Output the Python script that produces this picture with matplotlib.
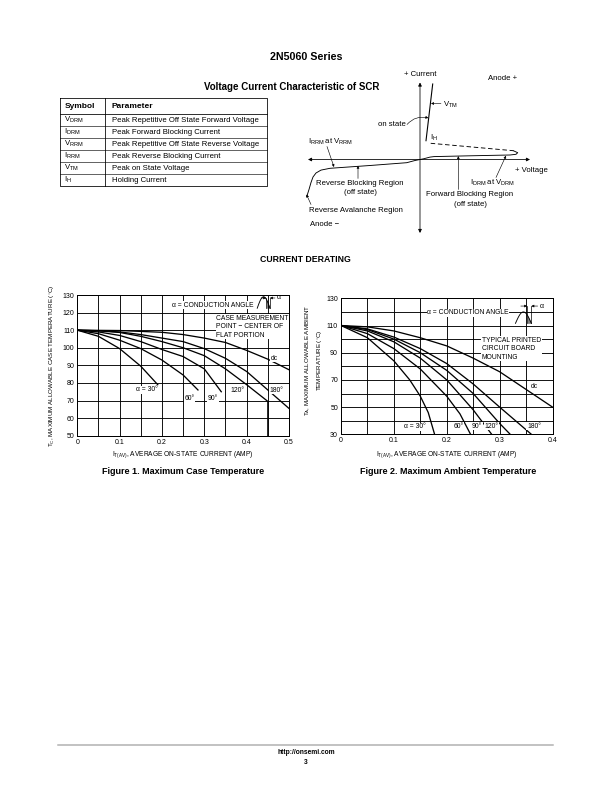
import numpy as np
import matplotlib.pyplot as plt

# ---------------- datos ----------------
simbolos = [r'V$_{\rm DRM}$', r'I$_{\rm DRM}$', r'V$_{\rm RRM}$', r'I$_{\rm RRM}$', r'V$_{\rm TM}$', r'I$_{\rm H}$']
parametros = ['Peak Repetitive Off State Forward Voltage',
              'Peak Forward Blocking Current',
              'Peak Repetitive Off State Reverse Voltage',
              'Peak Reverse Blocking Current',
              'Peak on State Voltage',
              'Holding Current']

# curva caracteristica del SCR (unidades del esquema, origen en el cruce de ejes)
on_v = [12.7, 6.0]
on_i = [75.5, 18.8]
hold_v = [10.7, 93.3]
hold_i = [16.2, 8.8]
fwd_v = [0, 4, 10, 14, 50, 90, 96, 97.7, 93.3]
fwd_i = [0, 0.8, 2.4, 2.9, 3.7, 4.5, 5.2, 6.8, 8.8]
rev_v = [0, -5, -13.3, -50, -90, -99, -104, -107, -109, -111, -113.3]
rev_i = [0, -1, -3.2, -6, -8.8, -10.6, -13.5, -17.5, -23, -30, -37.2]

# Figura 1: temperatura de carcasa
f1_30_x = [0, 0.05, 0.1, 0.15, 0.19]
f1_30_y = [110, 106.5, 99.5, 89.5, 79]
f1_60_x = [0, 0.05, 0.1, 0.15, 0.2, 0.25, 0.285]
f1_60_y = [110, 108, 104.3, 99.5, 93, 84.5, 76]
f1_90_x = [0, 0.05, 0.1, 0.15, 0.2, 0.25, 0.3, 0.34]
f1_90_y = [110, 109, 107, 103.5, 99, 95, 88, 75]
f1_120_x = [0, 0.05, 0.1, 0.15, 0.2, 0.25, 0.3, 0.35, 0.4, 0.45, 0.45]
f1_120_y = [110, 109.6, 108.7, 106.5, 103.5, 100, 95.5, 88, 79, 69.5, 50]
f1_180_x = [0, 0.05, 0.1, 0.15, 0.2, 0.25, 0.3, 0.35, 0.4, 0.45, 0.5]
f1_180_y = [110, 109.7, 109, 107.5, 105.5, 103.5, 99.5, 94, 86.5, 76, 65.5]
f1_dc_x = [0, 0.1, 0.2, 0.25, 0.3, 0.35, 0.4, 0.45, 0.5]
f1_dc_y = [110, 109.8, 108.8, 107.5, 105.5, 103, 98.5, 93.5, 87.5]

# Figura 2: temperatura ambiente
f2_30_x = [0, 0.05, 0.1, 0.13, 0.15, 0.165, 0.177]
f2_30_y = [110, 101, 84, 70, 58, 46, 30]
f2_60_x = [0, 0.05, 0.1, 0.15, 0.2, 0.225, 0.245]
f2_60_y = [110, 104, 93, 78, 58, 45, 30]
f2_90_x = [0, 0.05, 0.1, 0.15, 0.2, 0.25, 0.285]
f2_90_y = [110, 106, 98, 86, 70, 48, 30]
f2_120_x = [0, 0.05, 0.1, 0.15, 0.2, 0.25, 0.3, 0.32]
f2_120_y = [110, 107, 100, 90, 77, 60, 38, 30]
f2_180_x = [0, 0.05, 0.1, 0.15, 0.2, 0.25, 0.3, 0.36]
f2_180_y = [110, 107.5, 101.5, 93, 82, 67, 50, 30]
f2_dc_x = [0, 0.05, 0.1, 0.15, 0.2, 0.25, 0.3, 0.35, 0.4]
f2_dc_y = [110, 109, 106, 101, 95, 86, 76, 63, 50]

W, H = 612, 792
fig = plt.figure(figsize=(W / 72, H / 72), dpi=72)
fuente = ['Liberation Sans', 'DejaVu Sans']
estrecha = ['Liberation Sans Narrow', 'Liberation Sans', 'DejaVu Sans']
plt.rcParams['font.family'] = fuente
plt.rcParams['mathtext.fontset'] = 'custom'
plt.rcParams['mathtext.rm'] = 'Liberation Sans'


def caja(x0, y0, x1, y1):
    # caja en pixeles de pagina -> fracciones de figura
    return [x0 / W, 1 - y1 / H, (x1 - x0) / W, (y1 - y0) / H]


# pagina completa
pg = fig.add_axes([0, 0, 1, 1])
pg.set_xlim(0, W)
pg.set_ylim(H, 0)
pg.axis('off')

pg.text(306, 57, '2N5060 Series', ha='center', va='center', fontsize=10.6, fontweight='bold')
pg.text(292, 87, 'Voltage Current Characteristic of SCR', ha='center', va='center', fontsize=9.8, fontweight='bold')
pg.text(305, 260, 'CURRENT DERATING', ha='center', va='center', fontsize=8.8, fontweight='bold')

# tabla
t_x0, t_xm, t_x1 = 60, 105, 267
t_top, t_head, t_row = 98, 16, 12
n = len(simbolos)
t_bot = t_top + t_head + n * t_row
pg.plot([t_x0, t_x1, t_x1, t_x0, t_x0], [t_top, t_top, t_bot, t_bot, t_top], color='black', lw=0.8)
pg.plot([t_xm, t_xm], [t_top, t_bot], color='black', lw=0.8)
pg.plot([t_x0, t_x1], [t_top + t_head] * 2, color='black', lw=0.8)
pg.text(65, t_top + t_head / 2, 'Symbol', va='center', fontsize=8.4, fontweight='bold')
pg.text(112, t_top + t_head / 2, 'Parameter', va='center', fontsize=8.4, fontweight='bold')
for k in range(n):
    yc = t_top + t_head + (k + 0.5) * t_row
    if k > 0:
        pg.plot([t_x0, t_x1], [yc - t_row / 2] * 2, color='black', lw=0.6)
    pg.text(64, yc, simbolos[k], va='center', fontsize=7.8)
    pg.text(112, yc, parametros[k], va='center', fontsize=7.8)

# pie de pagina
pg.plot([58, 553], [745, 745], color='#b0b0b0', lw=1.5)
pg.text(306, 752, 'http://onsemi.com', ha='center', va='center', fontsize=6.6, fontweight='bold')
pg.text(306, 762, '3', ha='center', va='center', fontsize=6.6, fontweight='bold')

# ---------------- esquema del SCR ----------------
ox, oy = 420, 159.5
d = fig.add_axes(caja(300, 65, 540, 245))
d.set_xlim(300 - ox, 540 - ox)
d.set_ylim(oy - 245, oy - 65)
d.axis('off')
flecha = dict(arrowstyle='-|>', color='black', lw=0.8, mutation_scale=7, shrinkA=0, shrinkB=0)
for xy in [(-112, 0), (110, 0), (0, 77), (0, -73.5)]:
    d.annotate('', xy=xy, xytext=(0, 0), arrowprops=flecha)
d.plot(on_v, on_i, color='black', lw=1.1)
d.plot(hold_v, hold_i, color='black', lw=0.9, dashes=(5, 3))
d.plot(fwd_v, fwd_i, color='black', lw=0.9)
d.plot(rev_v, rev_i, color='black', lw=0.9)

fd = 7.8
flecha2 = dict(arrowstyle='-|>', color='black', lw=0.6, mutation_scale=5, shrinkA=0, shrinkB=0)
d.text(0, 85.5, '+ Current', ha='center', va='center', fontsize=fd)
d.text(68, 80.5, 'Anode +', ha='left', va='center', fontsize=fd)
d.annotate('', xy=(11, 56), xytext=(21, 56), arrowprops=flecha2)
d.text(23, 55, r'V$_{\rm TM}$', ha='left', va='center', fontsize=fd)
d.annotate('', xy=(8.3, 41.5), xytext=(-13, 35),
           arrowprops=dict(flecha2, connectionstyle='arc3,rad=-0.3'))
d.text(-14.5, 34.5, 'on state', ha='right', va='center', fontsize=fd)
d.text(10, 22, r'I$_{\rm H}$', ha='left', va='center', fontsize=fd)
d.text(-112, 18, r'I$_{\rm RRM}$ at V$_{\rm RRM}$', ha='left', va='center', fontsize=fd)
d.annotate('', xy=(-86, -7.5), xytext=(-93, 13), arrowprops=flecha2)
d.text(95, -11.5, '+ Voltage', ha='left', va='center', fontsize=fd)
d.text(50, -23, r'I$_{\rm DRM}$ at V$_{\rm DRM}$', ha='left', va='center', fontsize=fd)
d.annotate('', xy=(86, 3.8), xytext=(76, -18), arrowprops=flecha2)
d.text(-60, -23.8, 'Reverse Blocking Region', ha='center', va='center', fontsize=fd)
d.text(-60, -33.5, '(off state)', ha='center', va='center', fontsize=fd)
d.annotate('', xy=(-62, -6.2), xytext=(-62, -19), arrowprops=flecha2)
d.text(50, -34.8, 'Forward Blocking Region', ha='center', va='center', fontsize=fd)
d.text(50, -45.5, '(off state)', ha='center', va='center', fontsize=fd)
d.annotate('', xy=(38.3, 3.4), xytext=(38.3, -30), arrowprops=flecha2)
d.text(-64, -50.5, 'Reverse Avalanche Region', ha='center', va='center', fontsize=fd)
d.annotate('', xy=(-113.5, -35), xytext=(-109, -45), arrowprops=flecha2)
d.text(-110, -65.5, 'Anode \u2212', ha='left', va='center', fontsize=fd)

# ---------------- graficos de derating ----------------
blanco = dict(facecolor='white', edgecolor='none', pad=0.6)


def preparar(ax, xmax, xmaj, ymin, ymaj, ymin_grid):
    ax.set_xlim(0, xmax)
    ax.set_xticks(xmaj)
    ax.set_xticks(np.arange(0.05, xmax, 0.1), minor=True)
    ax.set_yticks(ymaj)
    ax.set_yticks(ymin_grid, minor=True)
    ax.set_xticklabels([('0' if v == 0 else f'{v:.1f}') for v in xmaj], family=estrecha, fontsize=7)
    ax.set_yticklabels([str(v) for v in ymaj], family=estrecha, fontsize=7)
    ax.grid(which='both', color='black', lw=0.9)
    ax.tick_params(which='both', length=0, pad=3)
    for s in ax.spines.values():
        s.set_linewidth(1.0)


def icono(ax, x0, x1, ybase, ytop, xcut, ya, dx):
    t = np.linspace(0, np.pi, 40)
    xs = x0 + (x1 - x0) * t / np.pi
    ys = ybase + (ytop - ybase) * np.sin(t)
    ax.plot(xs, ys, color='black', lw=0.9, zorder=6)
    m = xs >= xcut
    ax.fill_between(xs[m], ybase, ys[m], color='black', alpha=0.5, lw=0, zorder=6)
    ax.plot([xcut, xcut], [ybase, ya], color='black', lw=0.7, zorder=6)
    ax.plot([x1, x1], [ybase, ya], color='black', lw=0.7, zorder=6)
    ax.annotate('', xy=(xcut, ya), xytext=(xcut - dx, ya), arrowprops=flecha2, zorder=6)
    ax.annotate('', xy=(x1, ya), xytext=(x1 + dx, ya), arrowprops=flecha2, zorder=6)
    ax.text(x1 + dx * 1.3, ya, '\u03b1', ha='left', va='center', fontsize=7, zorder=6)


fe = 6.8
# Figura 1
a1 = fig.add_axes(caja(77.3, 295, 289, 435.7))
a1.set_ylim(50, 130)
preparar(a1, 0.5, [0, 0.1, 0.2, 0.3, 0.4, 0.5], 50, list(range(50, 131, 10)), [])
for xs, ys in [(f1_30_x, f1_30_y), (f1_60_x, f1_60_y), (f1_90_x, f1_90_y),
               (f1_120_x, f1_120_y), (f1_180_x, f1_180_y), (f1_dc_x, f1_dc_y)]:
    a1.plot(xs, ys, color='black', lw=1.3, zorder=4)
a1.text(0.224, 124.2, '\u03b1 = CONDUCTION ANGLE', fontsize=fe, family=estrecha, va='center', bbox=blanco, zorder=5)
a1.text(0.328, 112, 'CASE MEASUREMENT\nPOINT \u2212 CENTER OF\nFLAT PORTION', fontsize=fe, family=estrecha,
        va='center', linespacing=1.3, bbox=blanco, zorder=5)
icono(a1, 0.425, 0.455, 122.5, 129, 0.446, 128.3, 0.012)
for tx, x, y in [('dc', 0.466, 94), ('180\u00b0', 0.471, 75.8), ('120\u00b0', 0.378, 75.8),
                 ('90\u00b0', 0.321, 71), ('60\u00b0', 0.265, 71), ('\u03b1 = 30\u00b0', 0.164, 76)]:
    a1.text(x, y, tx, fontsize=fe, family=estrecha, ha='center', va='center', bbox=blanco, zorder=5)

# Figura 2
a2 = fig.add_axes(caja(341, 298.3, 552.5, 434.3))
a2.set_ylim(30, 130)
preparar(a2, 0.4, [0, 0.1, 0.2, 0.3, 0.4], 30, list(range(30, 131, 20)), list(range(40, 130, 20)))
for xs, ys in [(f2_30_x, f2_30_y), (f2_60_x, f2_60_y), (f2_90_x, f2_90_y),
               (f2_120_x, f2_120_y), (f2_180_x, f2_180_y), (f2_dc_x, f2_dc_y)]:
    a2.plot(xs, ys, color='black', lw=1.3, zorder=4)
a2.text(0.163, 119.4, '\u03b1 = CONDUCTION ANGLE', fontsize=fe, family=estrecha, va='center', bbox=blanco, zorder=5)
a2.text(0.266, 93, 'TYPICAL PRINTED\nCIRCUIT BOARD\nMOUNTING', fontsize=fe, family=estrecha,
        va='center', linespacing=1.3, bbox=blanco, zorder=5)
icono(a2, 0.33, 0.36, 111.6, 120, 0.352, 124.3, 0.012)
for tx, x, y in [('dc', 0.365, 65), ('180\u00b0', 0.365, 36), ('120\u00b0', 0.285, 36),
                 ('90\u00b0', 0.257, 36), ('60\u00b0', 0.222, 36), ('\u03b1 = 30\u00b0', 0.14, 35.6)]:
    a2.text(x, y, tx, fontsize=fe, family=estrecha, ha='center', va='center', bbox=blanco, zorder=5)

# rotulos de ejes
pg.text(183, 455, r'I$_{\rm T(AV)}$, AVERAGE ON-STATE CURRENT (AMP)', ha='center', va='center', fontsize=6.6, family=estrecha)
pg.text(447, 455, r'I$_{\rm T(AV)}$, AVERAGE ON-STATE CURRENT (AMP)', ha='center', va='center', fontsize=6.6, family=estrecha)
pg.text(52, 366, r'T$_{\rm C}$, MAXIMUM ALLOWABLE CASE TEMPERATURE ($^{\circ}$C)', rotation=90,
        ha='center', va='center', fontsize=6.2, family=estrecha)
pg.text(314, 360, 'T$_{\\rm A}$, MAXIMUM ALLOWABLE AMBIENT\nTEMPERATURE ($^{\\circ}$C)', rotation=90,
        ha='center', va='center', fontsize=6.2, family=estrecha, linespacing=1.6)
pg.text(183, 471, 'Figure 1. Maximum Case Temperature', ha='center', va='center', fontsize=9, fontweight='bold')
pg.text(448, 471, 'Figure 2. Maximum Ambient Temperature', ha='center', va='center', fontsize=9, fontweight='bold')

fig.savefig('out.png', dpi=72)
